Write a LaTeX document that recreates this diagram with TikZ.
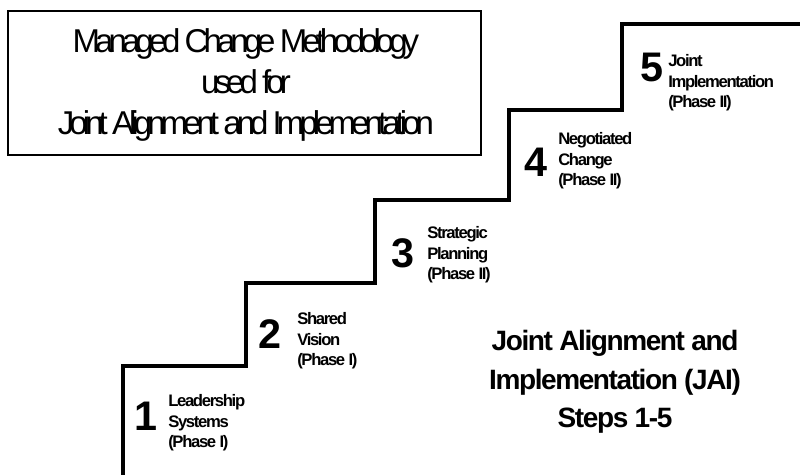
\documentclass[tikz,border=0pt]{standalone}
\usepackage{fontspec}
\setmainfont{Liberation Sans}
\newfontfamily\titlefont[LetterSpace=-15]{Liberation Sans}
\newfontfamily\stepfont[LetterSpace=-8]{Liberation Sans}
\newfontfamily\numfont[LetterSpace=0]{Liberation Sans}
\newfontfamily\jaifont[LetterSpace=-5]{Liberation Sans}
\begin{document}
\begin{tikzpicture}[x=0.75pt,y=-0.75pt,
  stair/.style={line width=3.2pt, line join=miter},
  titlebox/.style={draw, line width=0.8pt, inner sep=0pt},
  titletext/.style={font=\titlefont\fontsize{24.75}{30.75}\selectfont, align=center, inner sep=0pt, anchor=north},
  numlabel/.style={font=\numfont\bfseries\fontsize{31}{33}\selectfont, inner sep=0pt, anchor=center},
  steplabel/.style={font=\stepfont\bfseries\fontsize{12.5}{15.5}\selectfont, align=left, inner sep=0pt, anchor=north west},
  jaitext/.style={font=\jaifont\bfseries\fontsize{21}{29}\selectfont, align=center, inner sep=0pt, anchor=north}]
\useasboundingbox (0,0) rectangle (800,475);
% title box
\node[titlebox, minimum width=473*0.75pt, minimum height=144*0.75pt] (box) at (244.5,83) {};
\node[titletext] (title) at (246,28) {Managed Change Methodology\\used for\\Joint Alignment and Implementation};
% staircase
\coordinate (s0) at (123,480);
\coordinate (s1) at (123,366);
\coordinate (s2) at (246,366);
\coordinate (s3) at (246,283);
\coordinate (s4) at (375,283);
\coordinate (s5) at (375,200);
\coordinate (s6) at (509,200);
\coordinate (s7) at (509,110);
\coordinate (s8) at (622,110);
\coordinate (s9) at (622,24);
\coordinate (s10) at (805,24);
\draw[stair] (s0) -- (s1) -- (s2) -- (s3) -- (s4) -- (s5) -- (s6) -- (s7) -- (s8) -- (s9) -- (s10);
% steps
\node[numlabel] (n1) at (146,416) {1};
\node[steplabel] (t1) at (168,394) {Leadership\\Systems\\(Phase I)};
\node[numlabel] (n2) at (270,334.5) {2};
\node[steplabel] (t2) at (297,312) {Shared\\Vision\\(Phase I)};
\node[numlabel] (n3) at (402.5,253) {3};
\node[steplabel] (t3) at (427,226) {Strategic\\Planning\\(Phase II)};
\node[numlabel] (n4) at (536,162.5) {4};
\node[steplabel] (t4) at (558,132) {Negotiated\\Change\\(Phase II)};
\node[numlabel] (n5) at (651.5,67) {5};
\node[steplabel] (t5) at (668,54) {Joint\\Implementation\\(Phase II)};
% JAI
\node[jaitext] (jai) at (615,330) {Joint Alignment and\\Implementation (JAI)\\Steps 1-5};
\end{tikzpicture}
\end{document}
